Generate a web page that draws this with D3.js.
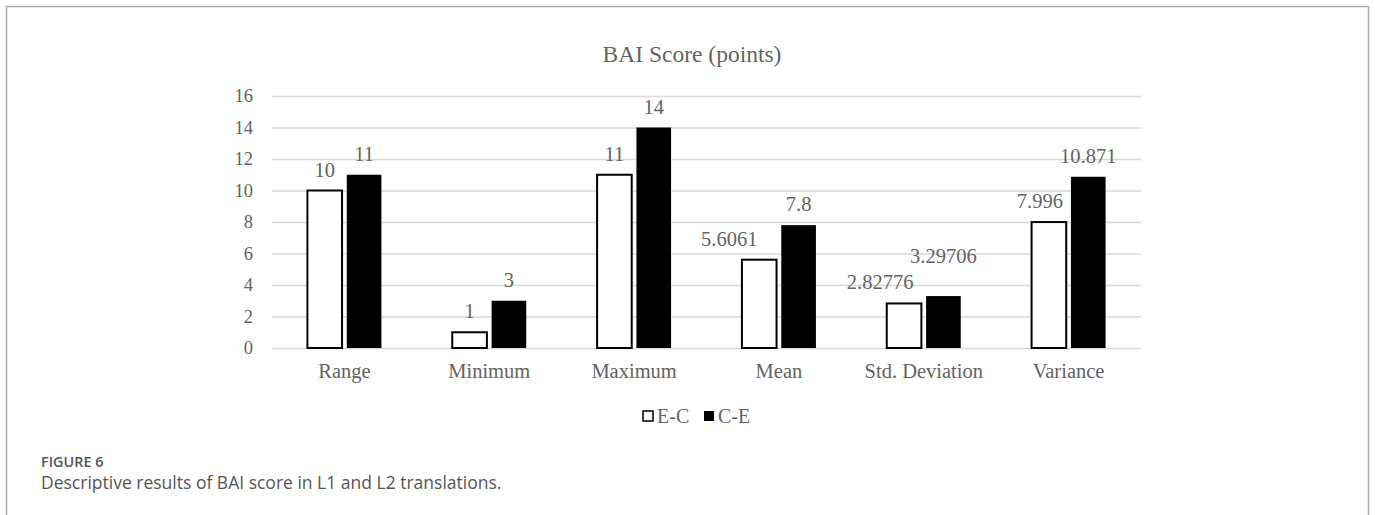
<!DOCTYPE html>
<html lang="en">
<head>
    <meta charset="UTF-8">
    <title>BAI Score</title>
    <script src="https://cdn.jsdelivr.net/npm/d3@7/dist/d3.min.js"></script>
    <style>
        body { margin: 0; background: #fff; }
    </style>
</head>
<body>
    <div class="chart"></div>
</body>
<script>
    const categories = ['Range', 'Minimum', 'Maximum', 'Mean', 'Std. Deviation', 'Variance']
    const seriesNames = ['E-C', 'C-E']
    const ecValues = [10, 1, 11, 5.6061, 2.82776, 7.996]
    const ceValues = [11, 3, 14, 7.8, 3.29706, 10.871]
    const yTicks = [0, 2, 4, 6, 8, 10, 12, 14, 16]

    const width = 1375
    const height = 515
    const plot = { left: 272, right: 1141, top: 96, bottom: 348 }
    const serif = 'Liberation Serif, Times New Roman, serif'
    const gray = '#636363'
    // label nudges [dx, dy] per category, [E-C, C-E] (Excel moved some to avoid clashes)
    const nudge = {
        'Mean': [[-30, 0], [0, 0]],
        'Std. Deviation': [[-24, 0], [0, -19]],
        'Variance': [[-9, 0], [0, 0]]
    }

    const svg = d3.select('.chart').append('svg')
        .attr('width', width)
        .attr('height', height)

    // outer frame
    svg.append('path')
        .attr('d', `M6.5,${height} V6.5 H1368.5 V${height}`)
        .attr('fill', 'none')
        .attr('stroke', '#aaa')
        .attr('stroke-width', 1.5)

    const x0 = d3.scaleBand().domain(categories).range([plot.left, plot.right])
    const x1 = d3.scaleBand().domain(seriesNames).range([0, 74]).paddingInner(0.12)
    const y = d3.scaleLinear().domain([0, 16]).range([plot.bottom, plot.top])

    // grid + y axis
    const yAxis = d3.axisLeft(y).tickValues(yTicks).tickSize(-(plot.right - plot.left)).tickPadding(19)
    const gy = svg.append('g').attr('transform', `translate(${plot.left},0)`).call(yAxis)
    gy.select('.domain').remove()
    gy.selectAll('.tick line').attr('stroke', '#d9d9d9').attr('stroke-width', 1.3)
    gy.selectAll('.tick text').attr('fill', gray).attr('font-family', serif).attr('font-size', '18.5px')

    const xAxis = d3.axisBottom(x0).tickSize(0).tickPadding(15)
    const gx = svg.append('g').attr('transform', `translate(0,${plot.bottom})`).call(xAxis)
    gx.select('.domain').remove()
    gx.selectAll('.tick text').attr('fill', gray).attr('font-family', serif).attr('font-size', '20.5px')

    const data = categories.map((c, i) => ({ cat: c, vals: [ecValues[i], ceValues[i]] }))
    const offset = (x0.bandwidth() - 74) / 2

    const groups = svg.selectAll('.grp').data(data).enter().append('g')
        .attr('class', 'grp')
        .attr('transform', d => `translate(${x0(d.cat) + offset},0)`)

    groups.selectAll('rect').data(d => d.vals).enter().append('rect')
        .attr('x', (d, i) => x1(seriesNames[i]))
        .attr('y', d => y(d))
        .attr('width', x1.bandwidth())
        .attr('height', d => y(0) - y(d))
        .attr('fill', (d, i) => i === 0 ? '#fff' : '#000')
        .attr('stroke', '#000')
        .attr('stroke-width', (d, i) => i === 0 ? 2 : 0)

    groups.selectAll('text').data(d => d.vals.map((v, i) => ({ v, i, cat: d.cat }))).enter().append('text')
        .attr('x', d => x1(seriesNames[d.i]) + x1.bandwidth() / 2 + (nudge[d.cat] ? nudge[d.cat][d.i][0] : 0))
        .attr('y', d => y(d.v) - 14 + (nudge[d.cat] ? nudge[d.cat][d.i][1] : 0))
        .attr('text-anchor', 'middle')
        .attr('fill', gray)
        .attr('font-family', serif)
        .attr('font-size', '20.5px')
        .text(d => d.v)

    // title
    svg.append('text')
        .attr('x', 692).attr('y', 62)
        .attr('text-anchor', 'middle')
        .attr('fill', gray)
        .attr('font-family', serif)
        .attr('font-size', '23.5px')
        .text('BAI Score (points)')

    // legend
    const legend = svg.selectAll('.leg').data(seriesNames).enter().append('g')
        .attr('class', 'leg')
        .attr('transform', (d, i) => `translate(${643 + i * 61},411)`)
    legend.append('rect')
        .attr('width', 10).attr('height', 10)
        .attr('fill', (d, i) => i === 0 ? '#fff' : '#000')
        .attr('stroke', '#000')
        .attr('stroke-width', (d, i) => i === 0 ? 1.5 : 0)
    legend.append('text')
        .attr('x', 14).attr('y', 12)
        .attr('fill', gray)
        .attr('font-family', serif)
        .attr('font-size', '20px')
        .text(d => d)

    // caption
    svg.append('text')
        .attr('x', 41).attr('y', 467)
        .attr('fill', '#555')
        .attr('font-family', 'Open Sans, sans-serif')
        .attr('font-size', '14.4px')
        .attr('font-weight', 600)
        .text('FIGURE 6')
    svg.append('text')
        .attr('x', 41).attr('y', 489)
        .attr('fill', '#555')
        .attr('font-family', 'Open Sans, sans-serif')
        .attr('font-size', '17.5px')
        .text('Descriptive results of BAI score in L1 and L2 translations.')
</script>
</html>
